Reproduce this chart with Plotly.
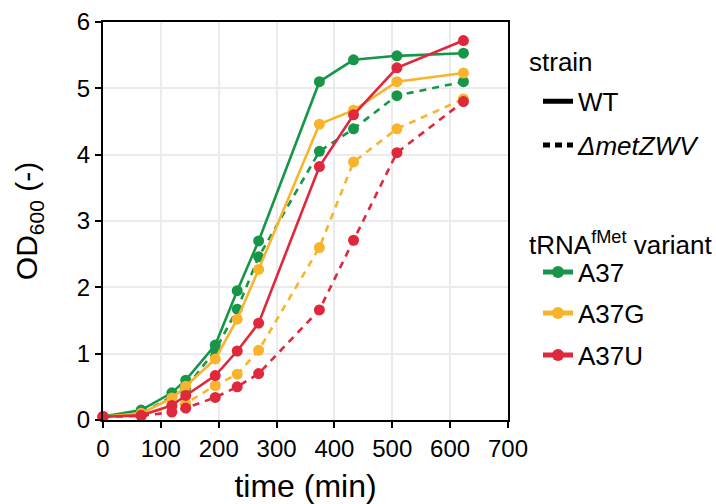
import plotly.graph_objects as go

time_min = [0, 66, 119, 143, 194, 232, 269, 374, 433, 508, 623]

wt_a37 = [0.05, 0.15, 0.41, 0.60, 1.13, 1.95, 2.70, 5.10, 5.43, 5.49, 5.53]
dm_a37 = [0.05, 0.10, 0.35, 0.48, 1.05, 1.67, 2.46, 4.05, 4.39, 4.89, 5.10]
wt_a37g = [0.05, 0.10, 0.33, 0.51, 0.92, 1.52, 2.27, 4.46, 4.67, 5.10, 5.23]
dm_a37g = [0.05, 0.08, 0.20, 0.25, 0.52, 0.69, 1.05, 2.60, 3.89, 4.39, 4.84]
wt_a37u = [0.05, 0.07, 0.22, 0.37, 0.67, 1.04, 1.46, 3.82, 4.60, 5.31, 5.72]
dm_a37u = [0.05, 0.06, 0.12, 0.18, 0.34, 0.50, 0.70, 1.66, 2.71, 4.03, 4.80]

variants = ["A37", "A37G", "A37U"]
colors = {"A37": "#17964a", "A37G": "#f9b42c", "A37U": "#e0283c"}
wt_series = {"A37": wt_a37, "A37G": wt_a37g, "A37U": wt_a37u}
dm_series = {"A37": dm_a37, "A37G": dm_a37g, "A37U": dm_a37u}

FONT = "Liberation Sans, Arial, sans-serif"
LW = 2.6
MS = 11

fig = go.Figure()

for v in variants:
    c = colors[v]
    fig.add_trace(go.Scatter(
        x=time_min, y=dm_series[v], mode="lines+markers",
        line=dict(color=c, width=LW, dash="7px,6px"),
        marker=dict(color=c, size=MS), showlegend=False, cliponaxis=False))
    fig.add_trace(go.Scatter(
        x=time_min, y=wt_series[v], mode="lines+markers",
        line=dict(color=c, width=LW),
        marker=dict(color=c, size=MS), showlegend=False, cliponaxis=False))

# legend entries (each in its own legend for exact placement)
def ypix(p):
    return (420 - p) / 398.3

def xpix(p):
    return (p - 103) / 405.0

legend_items = [
    ("WT", "black", "solid", "lines", 101, 1.8),
    ("<i>ΔmetZWV</i>", "black", "7px,5px", "lines", 145, 1.8),
    ("A37", colors["A37"], "solid", "lines+markers", 272, 2.2),
    ("A37G", colors["A37G"], "solid", "lines+markers", 313, 2.2),
    ("A37U", colors["A37U"], "solid", "lines+markers", 355, 2.2),
]
layout_legends = {}
for i, (name, col, dash, mode, yp, w) in enumerate(legend_items):
    lname = "legend" if i == 0 else f"legend{i + 1}"
    fig.add_trace(go.Scatter(
        x=[None], y=[None], mode=mode, name=name,
        line=dict(color=col, width=w, dash=dash),
        marker=dict(color=col, size=10),
        legend=lname, showlegend=True))
    layout_legends[lname] = dict(
        x=xpix(538), xanchor="left", y=ypix(yp), yanchor="middle",
        bgcolor="rgba(0,0,0,0)", borderwidth=0,
        font=dict(family=FONT, size=26, color="black"),
        itemsizing="constant", tracegroupgap=0)

fig.update_layout(**layout_legends)

fig.update_layout(
    width=716, height=504,
    margin=dict(l=103, r=208, t=22, b=84, autoexpand=False),
    paper_bgcolor="white", plot_bgcolor="white",
    font=dict(family=FONT, color="black"),
    xaxis=dict(
        range=[0, 700], tickvals=[0, 100, 200, 300, 400, 500, 600, 700],
        showgrid=True, gridcolor="#ebebeb", gridwidth=1.5,
        showline=True, linecolor="black", linewidth=2, mirror=True,
        ticks="outside", ticklen=6, tickwidth=2, tickcolor="black",
        tickfont=dict(size=24, family=FONT, color="black"),
        title=dict(text="time (min)", font=dict(size=32, family=FONT), standoff=14),
        zeroline=False, automargin=False),
    yaxis=dict(
        range=[0, 6], tickvals=[0, 1, 2, 3, 4, 5, 6],
        showgrid=True, gridcolor="#ebebeb", gridwidth=1.5,
        showline=True, linecolor="black", linewidth=2, mirror=True,
        ticks="outside", ticklen=6, tickwidth=2, tickcolor="black",
        tickfont=dict(size=24, family=FONT, color="black"),
        title=dict(text="OD<sub>600</sub> (-)", font=dict(size=30, family=FONT), standoff=30),
        zeroline=False, automargin=False),
    annotations=[
        dict(text="strain", xref="paper", yref="paper", x=xpix(527), y=ypix(62),
             xanchor="left", yanchor="middle", showarrow=False,
             font=dict(size=26, family=FONT, color="black")),
        dict(text="tRNA<sup>fMet</sup> variant", xref="paper", yref="paper", x=xpix(527), y=ypix(243),
             xanchor="left", yanchor="middle", showarrow=False,
             font=dict(size=26, family=FONT, color="black")),
    ],
)

fig.write_html("out.html", config={"displayModeBar": False},
               post_script="document.body.style.margin='0px';")
